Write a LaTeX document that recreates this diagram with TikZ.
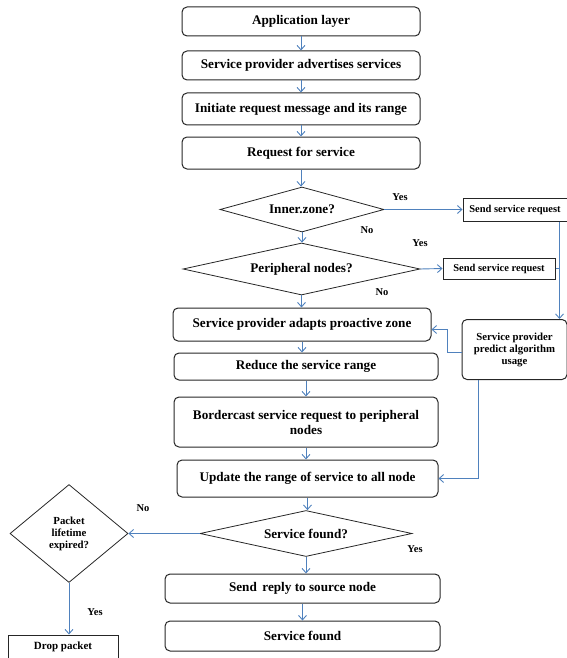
\documentclass[tikz,border=0pt]{standalone}
\usepackage{fontspec}
\setmainfont{Liberation Serif}
\usetikzlibrary{shapes.geometric,arrows.meta}
\definecolor{flowblue}{RGB}{79,129,189}

\tikzset{
	stepbox/.style={draw=black!85, line width=1pt, rounded corners=5pt, align=center, inner sep=2pt, font=\fontsize{13.2}{15}\selectfont\bfseries},
	plainbox/.style={draw=black!85, line width=1pt, align=center, inner sep=2pt, font=\fontsize{10.5}{12}\selectfont\bfseries},
	decide/.style={diamond, draw=black!85, line width=0.8pt, align=center, inner sep=0pt, font=\fontsize{13.2}{15}\selectfont\bfseries},
	flow/.style={draw=flowblue, line width=0.9pt, -{Straight Barb[length=4.5pt,width=8pt]}},
	link/.style={draw=flowblue, line width=0.9pt},
	answer/.style={font=\fontsize{10.5}{12}\selectfont\bfseries}
}

\begin{document}
\begin{tikzpicture}[x=1pt, y=-1pt]
	\useasboundingbox (0,0) rectangle (567,658);
	% main column
	\node[stepbox, minimum width=238pt, minimum height=29pt] (app) at (301,21.5) {Application layer};
	\node[stepbox, minimum width=238pt, minimum height=29pt] (adv) at (301,65.5) {Service provider advertises services};
	\node[stepbox, minimum width=238pt, minimum height=32pt] (init) at (301,109) {Initiate request message and its range};
	\node[stepbox, minimum width=238pt, minimum height=32pt] (req) at (301,153) {Request for service};
	\node[decide, aspect=3.64, minimum width=164pt, minimum height=45pt] (inner) at (302,209.5) {Inner.zone?};
	\node[decide, aspect=4.56, minimum width=237pt, minimum height=52pt] (periph) at (301.5,269) {Peripheral nodes?};
	\node[stepbox, minimum width=258pt, minimum height=33pt] (adapt) at (302,324.5) {Service provider adapts proactive zone};
	\node[stepbox, minimum width=264pt, minimum height=27pt] (reduce) at (306,366.5) {Reduce the service range};
	\node[stepbox, minimum width=264pt, minimum height=50pt] (border) at (306,422) {Bordercast service request to peripheral\\nodes};
	\node[stepbox, minimum width=261pt, minimum height=37pt] (update) at (307.5,478.5) {Update the range of service to all node};
	\node[decide, aspect=4.6, minimum width=212pt, minimum height=46pt] (found) at (306,533.5) {Service found?};
	\node[stepbox, minimum width=275pt, minimum height=29pt] (reply) at (302.5,588.5) {Send\, reply to source node};
	\node[stepbox, minimum width=275pt, minimum height=30pt] (sfound) at (302.5,636) {Service found};

	% right side
	\node[plainbox, minimum width=104pt, minimum height=23pt] (send1) at (515,209.5) {Send service request};
	\node[plainbox, minimum width=112pt, minimum height=21pt] (send2) at (499,268.5) {Send service request};
	\node[stepbox, font=\fontsize{10.8}{12}\selectfont\bfseries, minimum width=105pt, minimum height=60pt] (predict) at (514.5,349.5) {Service provider\\predict algorithm\\usage};

	% left side
	\node[decide, aspect=1.2, font=\fontsize{10.8}{12}\selectfont\bfseries, minimum width=118pt, minimum height=98pt] (packet) at (69,533.5) {Packet\\lifetime\\expired?};
	\node[plainbox, font=\fontsize{11}{12}\selectfont\bfseries, minimum width=110pt, minimum height=23pt] (drop) at (63,646.5) {Drop packet};

	% straight down
	\foreach \a/\b in {app/adv, adv/init, init/req, req/inner, inner/periph, periph/adapt, adapt/reduce, reduce/border, border/update, update/found, found/reply, reply/sfound}
		\draw[flow] (\a.south) -- (\a.south |- \b.north);
	\draw[flow] (packet.south) -- (packet.south |- drop.north);

	% branches
	\draw[flow] (inner.east) -- (send1.west);
	\draw[flow] (periph.east) -- (send2.west);
	\coordinate (trunk) at ([xshift=-8pt]send1.south east);
	\draw[flow] (trunk) -- (trunk |- predict.north);
	\draw[link] (send2.east) -- (send2.east -| trunk);
	\draw[flow] ([yshift=-3pt]predict.west) -- ++(-14,0) |- ([yshift=-5pt]adapt.east);
	\draw[flow] ([xshift=-36pt]predict.south) |- (update.east);
	\draw[flow] (found.west) -- (packet.east);

	% answers
	\node[answer] (yes1) at (400,197) {Yes};
	\node[answer] (no1) at (367,230) {No};
	\node[answer] (yes2) at (420,243) {Yes};
	\node[answer] (no2) at (382,292) {No};
	\node[answer] (no3) at (143,508) {No};
	\node[answer] (yes3) at (415,549) {Yes};
	\node[answer] (yes4) at (95,612) {Yes};
\end{tikzpicture}
\end{document}
